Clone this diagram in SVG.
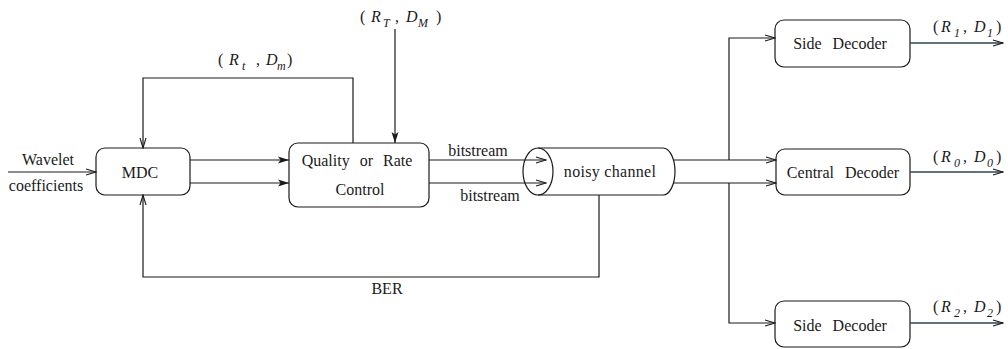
<svg xmlns="http://www.w3.org/2000/svg" width="1008" height="349" viewBox="0 0 1008 349">
<style>
  .box{fill:#fff;stroke:#1a1a1a;stroke-width:1.2}
  .cyl{fill:none;stroke:#1a1a1a;stroke-width:1.2}
  .ln{fill:none;stroke:#1a1a1a;stroke-width:1.2}
  .out{fill:none;stroke:#2e4553;stroke-width:1.4}
  .t{font-family:'Liberation Serif','DejaVu Serif',serif;font-size:16px;fill:#1a1a1a}
  .m{font-family:'Liberation Serif','DejaVu Serif',serif;font-size:16px;font-style:italic;fill:#1a1a1a}
  .s{font-family:'Liberation Serif','DejaVu Serif',serif;font-size:12px;font-style:italic;fill:#1a1a1a}
  .mid{text-anchor:middle}
</style>
<defs>
  <marker id="open" markerUnits="userSpaceOnUse" markerWidth="12" markerHeight="8" refX="11" refY="4" orient="auto">
    <path d="M1,1 L11,4 L1,7" fill="none" stroke="#1a1a1a" stroke-width="1.1"/>
  </marker>
  <marker id="fill" markerUnits="userSpaceOnUse" markerWidth="12" markerHeight="8" refX="11" refY="4" orient="auto">
    <path d="M0,0.5 L11,4 L0,7.5 L2.5,4 z" fill="#1a1a1a"/>
  </marker>
</defs>

<g id="mdc">
  <rect class="box" x="96" y="148" width="94" height="47" rx="9"/>
  <text class="t mid" x="140" y="178" font-family="Liberation Serif, serif">MDC</text>
</g>
<g id="quality">
  <rect class="box" x="289" y="143" width="140" height="64" rx="9"/>
  <text class="t mid" x="357" y="166" word-spacing="6">Quality or Rate</text>
  <text class="t mid" x="360" y="195">Control</text>
</g>
<g id="channel">
  <path class="cyl" d="M538,148 L663,148 A12,23.5 0 0 1 663,195 L538,195"/>
  <ellipse class="cyl" cx="538" cy="171.5" rx="15" ry="23.5"/>
  <text class="t mid" x="610" y="177" letter-spacing="0.3">noisy channel</text>
</g>
<g id="side-decoder-1">
  <rect class="box" x="775" y="20" width="135" height="47" rx="9"/>
  <text class="t mid" x="840" y="49" word-spacing="7">Side Decoder</text>
</g>
<g id="central-decoder">
  <rect class="box" x="776" y="149" width="134" height="46" rx="9"/>
  <text class="t mid" x="843" y="178" word-spacing="7">Central Decoder</text>
</g>
<g id="side-decoder-2">
  <rect class="box" x="775" y="301" width="135" height="46" rx="9"/>
  <text class="t mid" x="840" y="331" word-spacing="7">Side Decoder</text>
</g>

<g id="connectors">
  <line class="ln" x1="8" y1="172" x2="96" y2="172" marker-end="url(#open)"/>
  <line class="ln" x1="190" y1="160" x2="289" y2="160" marker-end="url(#fill)"/>
  <line class="ln" x1="190" y1="183" x2="289" y2="183" marker-end="url(#fill)"/>
  <polyline class="ln" points="353,143 353,78 143,78 143,148" marker-end="url(#open)"/>
  <line class="ln" x1="395" y1="29" x2="395" y2="143" marker-end="url(#fill)"/>
  <line class="ln" x1="429" y1="160" x2="546" y2="160" marker-end="url(#open)"/>
  <line class="ln" x1="429" y1="183" x2="546" y2="183" marker-end="url(#open)"/>
  <polyline class="ln" points="599,195 599,277 143,277 143,195" marker-end="url(#open)"/>
  <line class="ln" x1="673" y1="160" x2="776" y2="160" marker-end="url(#open)"/>
  <line class="ln" x1="673" y1="183" x2="776" y2="183" marker-end="url(#open)"/>
  <polyline class="ln" points="729,160 729,38 775,38" marker-end="url(#open)"/>
  <polyline class="ln" points="729,183 729,323 775,323" marker-end="url(#open)"/>
  <line class="out" x1="910" y1="43" x2="1003" y2="43" marker-end="url(#open)"/>
  <line class="out" x1="910" y1="172" x2="1003" y2="172" marker-end="url(#open)"/>
  <line class="out" x1="910" y1="323" x2="1003" y2="323" marker-end="url(#open)"/>
  <text class="t mid" x="48" y="165">Wavelet</text>
  <text class="t mid" x="46" y="191">coefficients</text>
  <text class="t mid" x="478" y="156">bitstream</text>
  <text class="t mid" x="490" y="201">bitstream</text>
  <text class="t mid" x="387" y="294">BER</text>
  <g id="label-RtDm">
    <text class="t" x="218" y="65">(</text>
    <text class="m" x="229" y="65">R</text>
    <text class="s" x="242" y="70">t</text>
    <text class="t" x="256" y="65">,</text>
    <text class="m" x="266" y="65">D</text>
    <text class="s" x="277" y="70">m</text>
    <text class="t" x="287" y="65">)</text>
  </g>
  <g id="label-RTDM">
    <text class="t" x="360" y="22">(</text>
    <text class="m" x="371" y="22">R</text>
    <text class="s" x="383" y="27">T</text>
    <text class="t" x="395" y="22">,</text>
    <text class="m" x="406" y="22">D</text>
    <text class="s" x="418" y="27">M</text>
    <text class="t" x="436" y="22">)</text>
  </g>
  <g id="label-R1D1">
    <text class="t" x="933" y="32">(</text>
    <text class="m" x="941" y="32">R</text>
    <text class="s" x="954" y="37">1</text>
    <text class="t" x="963" y="32">,</text>
    <text class="m" x="974" y="32">D</text>
    <text class="s" x="987" y="37">1</text>
    <text class="t" x="996" y="32">)</text>
  </g>
  <g id="label-R0D0">
    <text class="t" x="933" y="162">(</text>
    <text class="m" x="941" y="162">R</text>
    <text class="s" x="954" y="167">0</text>
    <text class="t" x="963" y="162">,</text>
    <text class="m" x="974" y="162">D</text>
    <text class="s" x="987" y="167">0</text>
    <text class="t" x="996" y="162">)</text>
  </g>
  <g id="label-R2D2">
    <text class="t" x="933" y="312">(</text>
    <text class="m" x="941" y="312">R</text>
    <text class="s" x="954" y="317">2</text>
    <text class="t" x="963" y="312">,</text>
    <text class="m" x="974" y="312">D</text>
    <text class="s" x="987" y="317">2</text>
    <text class="t" x="996" y="312">)</text>
  </g>
</g>
</svg>
